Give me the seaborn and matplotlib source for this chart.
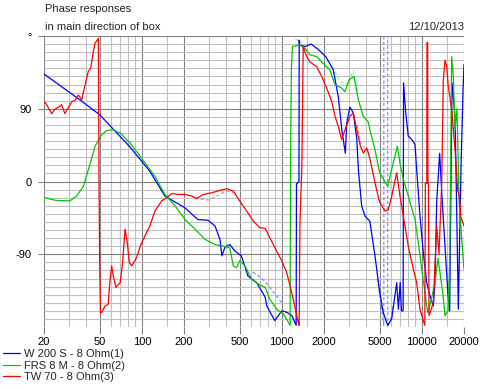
import numpy as np
import pandas as pd
import matplotlib
matplotlib.use('Agg')
import matplotlib.pyplot as plt
from matplotlib.ticker import NullFormatter
import seaborn as sns

# Phasengang W 200 S (blau)
w200_freq = [20, 36.1, 50, 82, 114, 146, 203, 251, 297, 333, 361, 373, 393, 425, 462, 514, 573,
             660, 760, 780, 890, 1000, 1090, 1180, 1265, 1272, 1325, 1330, 1340, 1460, 1620, 1830,
             2070, 2330, 2530, 2680, 2840, 2904, 3060, 3240, 3430, 3520, 3715, 3930, 4250, 4625,
             5000, 5300, 5700, 6090, 6610, 6800, 7000, 7150, 7350, 7400, 7670, 8000, 8460, 8930,
             9180, 9700, 10240, 10830, 11400, 12080, 12410, 12760, 13400, 14000, 14630, 15370,
             15800, 16420, 17260, 17750, 18220, 19050, 19680, 20000]
w200_phase = [133, 101, 82.6, 43, 12.7, -18, -32.5, -47, -48, -55, -71.5, -92, -81, -78, -86, -92, -117,
              -125, -143, -154, -172, -160, -162, -166, -178, -3, 0, 175, 169, 167, 170, 163,
              154, 138, 105, 64, 35, 72, 92, 85, 52, 15, -30, -43, -49, -92,
              -137, -162, -178, -170, -125, -158, -125, -160, -160, 122, 85, 56, 52, 46,
              15, -43, -88, -125, -141, -154, -125, -26, 35, -26, -80, -140,
              -160, 122, 80, -40, -158, 20, 113, 145]

# FRS 8 M (gruen)
frs8_freq = [20, 24.6, 30.6, 34.2, 38.2, 42.9, 46.3, 51.6, 56.1, 62.5, 70, 82, 97.4, 114, 124, 146,
             172.5, 203, 240, 282, 333, 382, 425, 450, 475, 500, 546, 609, 679, 760, 820, 918, 1024,
             1112, 1145, 1155, 1170, 1190, 1340, 1460, 1589, 1775, 1978, 2200, 2400, 2680, 2825,
             3032, 3275, 3520, 3820, 4140, 4250, 4625, 5000, 5700, 6090, 6680, 6980, 7370, 8000,
             8930, 9430, 9980, 10530, 11000, 11400, 12410, 13040, 13400, 14160, 14630, 15370,
             15800, 16340, 16790, 17260, 17830, 18420, 19050, 20000]
frs8_phase = [-20, -23.5, -24, -18, -6, 23, 43.5, 58, 63, 64, 60, 48, 31, 15, 6.5, -16,
              -30, -47, -59, -71.5, -78, -80, -82, -104.5, -106.5, -98, -104.5, -121, -127, -131, -145.5, -158, -164,
              -174, -178, 39, 139, 167, 169, 165, 156.6, 154.5, 146, 138, 119.6, 115.5, 111,
              126, 130, 101, 80.5, 74, 64, 39.5, 10.7, -6, 15, 43.5, 23, 2.5, -18,
              -47, -75.6, -108.5, -137, -162, -154, -125, -95, -110, -140, -166, -160,
              -100, 154.5, 130, 64, 90, -20, -60, -108]

# TW 70 (rot)
tw70_freq = [20, 20.9, 22.7, 24, 26, 26.7, 28.2, 29.8, 31.6, 33.2, 35.2, 37.2, 39.3, 41.4, 43.1, 45,
             46.3, 48.9, 49.4, 50, 50.6, 51.6, 54.6, 57.5, 59, 60.9, 62.5, 65.3, 70, 72.9, 75.8,
             78.7, 81.3, 84.6, 91.8, 97.4, 105, 114, 124, 138.6, 150.4, 163.4, 182, 203, 227,
             246.5, 275, 316, 361, 404, 450, 500, 561, 626, 695, 760, 869, 998, 1083, 1175, 1242,
             1310, 1330, 1345, 1390, 1420, 1504, 1589, 1775, 1927, 2090, 2270, 2400, 2530, 2675,
             2825, 3060, 3240, 3430, 3615, 3820, 4040, 4250, 4625, 5000, 5460, 5760, 6090, 6610,
             6980, 7370, 8000, 8690, 9180, 9700, 10240, 10500, 10600, 10850, 10880, 11000, 11050,
             11150, 11250, 12080, 12760, 13250, 13870, 14230, 14630, 15030, 15440, 16340, 16790,
             17260, 18030, 18580, 19050, 20000]
tw70_phase = [99, 95, 84, 89.6, 93, 95, 84, 91, 99, 100, 107, 101, 119.6, 136, 140, 160.6,
              171, 177, 6.5, -104.5, -162, -162, -154, -152, -125, -104.5, -117, -131, -125, -100, -59,
              -75.6, -100, -104.5, -94, -80, -67.5, -55, -36.6, -24, -20, -15, -16, -16, -18,
              -21, -16, -14, -11, -9, -12, -24, -36.6, -49, -57, -58, -78, -98, -112.6, -137, -156,
              -174, -178, -55, 20, 167, 154.5, 148, 142, 130, 115.5, 99, 80.5, 68, 52,
              64, 80.5, 85, 64, 45.6, 35, 41.5, 29, -1.6, -26, -36.6, -35, -18, 10.7,
              -18, -43, -80, -108.5, -125, -158, -172, -178, -2, -2, 172, 172, -2,
              -2, -166, -150, -55, -90, -1.6, 126, 150, 143, 117.5, 89, 64,
              39.5, -10, -20, -45, -55]

# zweite Messung (hell, gestrichelt), nur wo sichtbar
w200_ref_freq = [620, 700, 800, 900, 1000, 4800, 5100, 5350, 5350, 5700, 5700, 6000, 6300]
w200_ref_phase = [-112, -118, -128, -140, -150, -120, -150, -178, 180, 180, -180, -170, -150]
w200_ref_seg = [0, 0, 0, 0, 0, 1, 1, 1, 1, 1, 1, 1, 1]
frs8_ref_freq = [1250, 1400, 2300, 2600, 2900, 3250, 3500]
frs8_ref_phase = [176, 172, 142, 124, 120, 137, 110]
frs8_ref_seg = [0, 0, 1, 1, 1, 1, 1]
tw70_ref_freq = [240, 300, 400, 450, 3450, 3650, 3900]
tw70_ref_phase = [-21, -23, -12, -14, 70, 48, 42]
tw70_ref_seg = [0, 0, 0, 0, 1, 1, 1]

major_f = [20, 50, 100, 200, 500, 1000, 2000, 5000, 10000, 20000]
minor_f = [30, 40, 60, 70, 80, 90, 150, 300, 400, 600, 700, 800, 900, 1500,
           3000, 4000, 6000, 7000, 8000, 9000, 15000]
major_deg = [-90, 0, 90, 180]
major_deg_labels = ['-90', '0', '90', '°']

labels = ['W 200 S - 8 Ohm(1)', 'FRS 8 M - 8 Ohm(2)', 'TW 70 - 8 Ohm(3)']

sns.set_style('white')
plt.rcParams['font.family'] = ['Liberation Sans', 'DejaVu Sans']
plt.rcParams['font.size'] = 8

fig = plt.figure(figsize=(5.01, 3.89), dpi=100)
ax = fig.add_axes([44 / 501, 1 - 327 / 389, 420 / 501, 291 / 389])
ax.set_xscale('log')

# helle Zweitkurven zuerst (liegen unter den Hauptkurven)
for fq, ph, sg, col in [(w200_ref_freq, w200_ref_phase, w200_ref_seg, '#8080ff'),
                        (frs8_ref_freq, frs8_ref_phase, frs8_ref_seg, '#80ff80'),
                        (tw70_ref_freq, tw70_ref_phase, tw70_ref_seg, '#ff8080')]:
    df = pd.DataFrame({'f': fq, 'p': ph, 's': sg})
    for _, part in df.groupby('s'):
        sns.lineplot(data=part, x='f', y='p', ax=ax, sort=False, estimator=None,
                     color=col, lw=0.8, linestyle=(0, (3, 2)), label='_nolegend_')

handles = []
for fq, ph, col, lab in [(w200_freq, w200_phase, '#0000ff', labels[0]),
                         (frs8_freq, frs8_phase, '#00c800', labels[1]),
                         (tw70_freq, tw70_phase, '#ff0000', labels[2])]:
    sns.lineplot(x=fq, y=ph, ax=ax, sort=False, estimator=None, color=col, lw=0.9,
                 label='_nolegend_')
    handles.append(ax.lines[-1])

ax.set_xlim(20, 20000)
ax.set_ylim(-180, 180)
ax.set_xticks(major_f)
ax.set_xticklabels([str(v) for v in major_f])
ax.set_xticks(minor_f, minor=True)
ax.xaxis.set_minor_formatter(NullFormatter())
ax.set_yticks(major_deg)
ax.set_yticklabels(major_deg_labels)
ax.set_yticks([v for v in range(-170, 180, 10) if v not in major_deg], minor=True)
ax.yaxis.set_minor_formatter(NullFormatter())
ax.set_xlabel('')
ax.set_ylabel('')

ax.grid(which='major', color='#808080', lw=0.8)
ax.grid(which='minor', color='#c0c0c0', lw=0.8)
ax.set_axisbelow(True)
for sp in ax.spines.values():
    sp.set_visible(False)
ax.tick_params(which='major', direction='out', length=4, width=0.8, color='#808080',
               labelsize=8, labelcolor='black')
ax.tick_params(axis='y', which='major', pad=5)
ax.tick_params(axis='x', which='major', pad=2, length=5)
ax.tick_params(which='minor', length=0)
ax.tick_params(axis='both', which='major', bottom=True, left=True)

fig.text(45 / 501, 1 - 12.5 / 389, 'Phase responses', fontsize=8, va='baseline', ha='left')
fig.text(45 / 501, 1 - 29.5 / 389, 'in main direction of box', fontsize=8, va='baseline', ha='left')
fig.text(464 / 501, 1 - 29.5 / 389, '12/10/2013', fontsize=8, va='baseline', ha='right')

fig.legend(handles, labels, loc='upper left', bbox_to_anchor=(3 / 501, 1 - 349 / 389),
           frameon=False, fontsize=8, handlelength=1.55, handletextpad=0.35,
           labelspacing=0.15, borderpad=0, borderaxespad=0)

fig.savefig('out.png', dpi=100)
